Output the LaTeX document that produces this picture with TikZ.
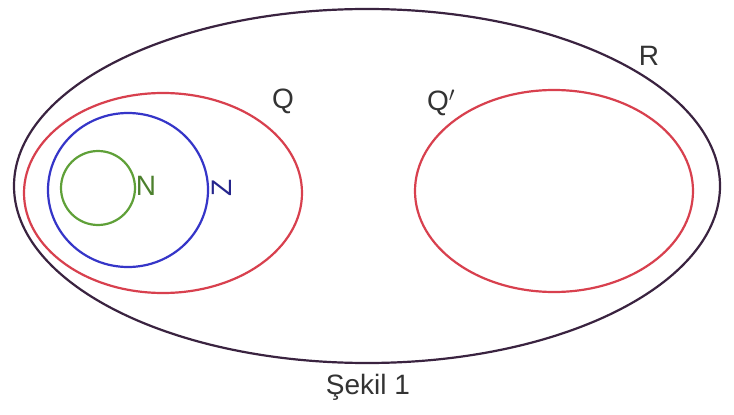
\documentclass[tikz,border=0pt]{standalone}
\usepackage{fontspec}
\setmainfont{Liberation Sans}
\definecolor{rcol}{HTML}{3A2340}
\definecolor{qcol}{HTML}{D8404E}
\definecolor{zcol}{HTML}{3535C8}
\definecolor{ncol}{HTML}{5FA038}
\definecolor{lcol}{HTML}{333333}
\begin{document}
\begin{tikzpicture}[x=1pt,y=-1pt,
  setline/.style={line width=2.2pt},
  lab/.style={font=\fontsize{28}{28}\selectfont, inner sep=0pt}]
\useasboundingbox[fill=white] (0,0) rectangle (734,415);
% R
\draw[setline,rcol] (367,186) ellipse [x radius=353, y radius=177];
% Q
\draw[setline,qcol] (163,193) ellipse [x radius=139, y radius=100];
% Q'
\draw[setline,qcol] (554,191) ellipse [x radius=139, y radius=101];
% Z
\draw[setline,zcol] (128,190) ellipse [x radius=80, y radius=77];
% N
\draw[setline,ncol] (98,188) circle [radius=37];
% labels
\node[lab,text=lcol] (lR) at (649,56) {R};
\node[lab,text=lcol] (lQ) at (283,101) {Q};
\node[lab,text=lcol] (lQp) at (441,103) {Q$'$};
\node[lab,text=ncol!80!black] (lN) at (146,186) {N};
\node[lab,text=zcol!70!black,rotate=90] (lZ) at (222,188) {Z};
\node[lab,text=lcol] (cap) at (368,387) {Şekil 1};
\end{tikzpicture}
\end{document}
